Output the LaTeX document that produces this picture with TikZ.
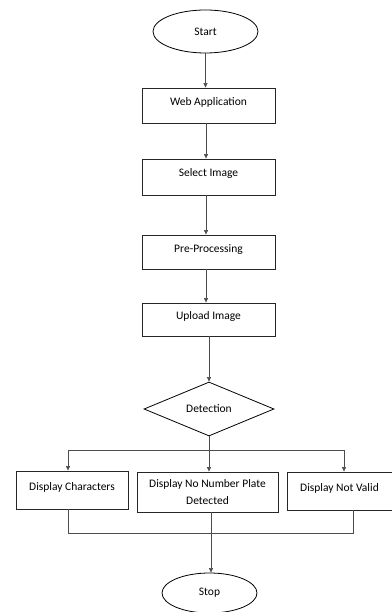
\documentclass[tikz,border=0pt]{standalone}
\usepackage{fontspec}
\setmainfont{Carlito}
\usetikzlibrary{shapes.geometric,arrows.meta}
\begin{document}
\begin{tikzpicture}[x=1pt,y=-1pt,
  every node/.style={font=\fontsize{11.5}{17}\selectfont, text=black},
  term/.style={ellipse, draw=black, line width=0.8pt, inner sep=0pt},
  proc/.style={rectangle, draw=black!85, line width=0.9pt, inner sep=0pt, text height=7pt, text depth=7pt},
  dec/.style={diamond, draw=black, line width=0.8pt, inner sep=0pt, minimum width=130pt, minimum height=54pt},
  conn/.style={draw=black!70, line width=0.6pt},
  arr/.style={conn, -{Triangle[length=4.5pt,width=4pt]}}]
\useasboundingbox (0,0) rectangle (391,612);
\node[term, minimum width=105pt, minimum height=43pt] (start) at (205.5,31.5) {Start};
\node[proc, minimum width=133pt, minimum height=35pt] (web) at (208.5,105.5) {Web Application};
\node[proc, minimum width=133pt, minimum height=36pt] (sel) at (208.5,177) {Select Image};
\node[proc, minimum width=133pt, minimum height=34pt] (pre) at (208.5,252) {Pre-Processing};
\node[proc, minimum width=133pt, minimum height=33pt] (up) at (208.5,319.5) {Upload Image};
\node[dec] (det) at (209,409) {Detection};
\node[proc, minimum width=112pt, minimum height=38pt] (dc) at (72,490) {Display Characters};
\node[proc, minimum width=141pt, minimum height=40pt, align=center, text height=, text depth=] (dn) at (207.5,492) {Display No Number Plate\\Detected};
\node[proc, minimum width=105pt, minimum height=38pt] (dv) at (339.5,491) {Display Not Valid};
\node[term, minimum width=95pt, minimum height=40pt] (stop) at (209.5,593) {Stop};
\coordinate (split) at (209,450);
\coordinate (ml) at (68,450);
\coordinate (mr) at (344,450);
\coordinate (jl) at (68,533);
\coordinate (jr) at (353,533);
\draw[arr] (start.south) -- (start.south |- web.north);
\draw[arr] (206,123) coordinate (a1) -- (a1 |- sel.north);
\draw[arr] (206,195) coordinate (a2) -- (a2 |- pre.north);
\draw[arr] (206,269) coordinate (a3) -- (a3 |- up.north);
\draw[arr] (up.south -| det.north) -- (det.north);
\draw[conn] (det.south) -- (split);
\draw[conn] (ml) -- (mr);
\draw[arr] (ml) -- (ml |- dc.north);
\draw[arr] (split) -- (split |- dn.north);
\draw[arr] (mr) -- (mr |- dv.north);
\draw[conn] (jl |- dc.south) -- (jl) -- (jr) -- (jr |- dv.south);
\draw[arr] (211,512) coordinate (a4) -- (a4 |- stop.north);
\end{tikzpicture}
\end{document}
